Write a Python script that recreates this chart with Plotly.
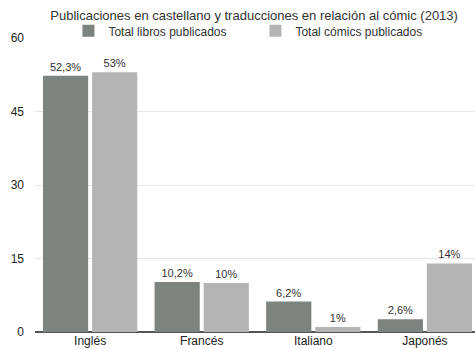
import plotly.graph_objects as go

categories = ["Inglés", "Francés", "Italiano", "Japonés"]
libros = [52.3, 10.2, 6.2, 2.6]
comics = [53, 10, 1, 14]
libros_labels = ["52,3%", "10,2%", "6,2%", "2,6%"]
comics_labels = ["53%", "10%", "1%", "14%"]

fig = go.Figure()
fig.add_trace(go.Bar(x=categories, y=libros, name="Total libros publicados",
                     marker=dict(color="#7d837f", line=dict(width=0)),
                     text=libros_labels, textposition="outside",
                     textfont=dict(size=11, color="#333333"), cliponaxis=False))
fig.add_trace(go.Bar(x=categories, y=comics, name="Total cómics publicados",
                     marker=dict(color="#b4b4b4", line=dict(width=0)),
                     text=comics_labels, textposition="outside",
                     textfont=dict(size=11, color="#333333"), cliponaxis=False))

fig.update_layout(
    width=475, height=350,
    margin=dict(l=35, r=0, t=38, b=18),
    paper_bgcolor="white", plot_bgcolor="white",
    font=dict(family="Liberation Sans, Arial, sans-serif", size=12, color="#222222"),
    title=dict(text="Publicaciones en castellano y traducciones en relación al cómic (2013)",
               x=0.535, xanchor="center", y=0.97, yanchor="top",
               font=dict(size=13, color="#333333"), automargin=False),
    barmode="group", bargap=0.12, bargroupgap=0.08,
    showlegend=True,
    legend=dict(orientation="h", x=0.076, xanchor="left", y=0.975, yanchor="bottom",
                font=dict(size=12, color="#333333"), entrywidth=142, entrywidthmode="pixels",
                bgcolor="rgba(0,0,0,0)", itemclick=False),
    xaxis=dict(range=[-0.494, 3.449], showline=False, ticks="", automargin=False,
               tickfont=dict(size=12, color="#222222")),
    yaxis=dict(range=[0, 60], tickvals=[0, 15, 30, 45, 60], showgrid=True,
               gridcolor="#e6e6e6", gridwidth=1, zeroline=True, zerolinecolor="#555555",
               zerolinewidth=1.5, ticks="", tickfont=dict(size=12, color="#222222"),
               ticklabelstandoff=10, automargin=False),
)

fig.write_html("out.html")
